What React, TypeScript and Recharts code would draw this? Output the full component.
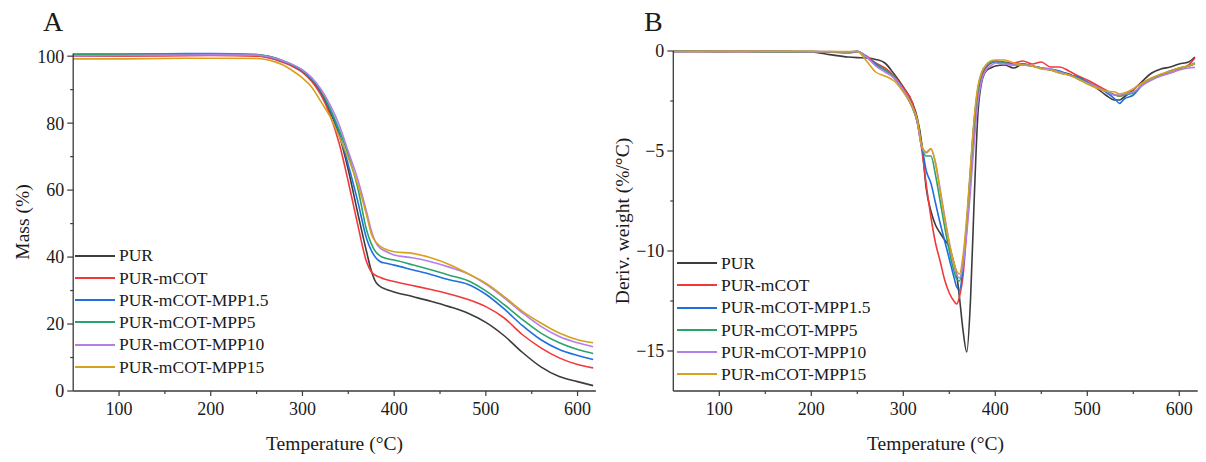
import React from 'react';
import { LineChart, Line, XAxis, YAxis, Legend } from 'recharts';

// ---------- Panel A: TGA (mass %) ----------
const tgaTemps = [50, 100, 150, 200, 250, 260, 270, 280, 290, 300, 310, 320, 330, 340, 350, 360, 370, 375, 380, 385, 390, 400, 420, 440, 460, 480, 500, 520, 540, 560, 580, 600, 617];
const tgaPUR = [100.2, 100.3, 100.4, 100.5, 100.2, 99.8, 99.2, 98.3, 97.0, 95.3, 92.8, 89.0, 83.5, 76.5, 66.0, 53.5, 41.5, 36.0, 32.5, 31.2, 30.5, 29.6, 28.2, 26.8, 25.2, 23.3, 20.5, 16.5, 11.5, 7.2, 4.3, 2.8, 1.6];
const tgaMCOT = [100.0, 100.0, 100.1, 100.2, 100.0, 99.7, 99.0, 98.0, 96.8, 95.2, 92.5, 88.5, 82.5, 74.0, 62.5, 50.0, 38.5, 35.6, 34.5, 33.9, 33.4, 32.7, 31.5, 30.3, 29.0, 27.4, 25.2, 21.8, 16.8, 12.9, 9.9, 7.9, 6.9];
const tgaMPP1_5 = [100.6, 100.6, 100.7, 100.8, 100.5, 100.1, 99.4, 98.4, 97.2, 95.6, 93.2, 89.5, 84.0, 77.0, 67.5, 57.0, 45.5, 42.0, 39.8, 38.6, 38.2, 37.6, 36.2, 34.8, 33.2, 31.9, 28.9, 24.5, 19.5, 15.3, 12.4, 10.6, 9.4];
const tgaMPP5 = [100.4, 100.5, 100.6, 100.7, 100.5, 100.1, 99.5, 98.5, 97.3, 95.8, 93.4, 89.8, 84.5, 78.0, 70.5, 61.0, 48.0, 44.0, 41.5, 40.3, 39.7, 39.1, 37.7, 36.2, 34.6, 33.0, 29.9, 25.8, 21.3, 17.3, 14.4, 12.4, 11.2];
const tgaMPP10 = [100.1, 100.2, 100.3, 100.4, 100.3, 100.0, 99.4, 98.5, 97.4, 95.9, 93.6, 90.2, 85.5, 79.5, 71.5, 63.5, 53.5, 48.0, 44.3, 42.6, 41.8, 40.6, 39.8, 38.6, 37.0, 35.1, 31.9, 27.8, 23.3, 19.3, 16.3, 14.4, 13.2];
const tgaMPP15 = [99.2, 99.2, 99.3, 99.4, 99.3, 99.0, 98.3, 97.2, 95.5, 93.5, 90.8, 86.5, 82.0, 76.0, 69.5, 62.0, 52.5, 47.0, 44.5, 43.2, 42.4, 41.6, 41.1, 39.8, 37.8, 35.1, 32.2, 28.2, 23.8, 20.3, 17.3, 15.3, 14.4];

// ---------- Panel B: DTG (%/°C) ----------
const dtgTemps = [50, 100, 150, 200, 220, 240, 250, 260, 270, 280, 290, 300, 310, 315, 320, 325, 330, 335, 340, 345, 350, 355, 358, 361, 365, 369, 373, 377, 381, 385, 390, 395, 400, 410, 420, 430, 440, 450, 460, 470, 480, 490, 500, 510, 520, 530, 535, 540, 550, 560, 570, 580, 590, 600, 610, 617];
const dtgPUR = [-0.02, -0.03, -0.02, -0.05, -0.18, -0.3, -0.33, -0.35, -0.42, -0.6, -1.15, -1.8, -2.6, -3.3, -4.6, -6.9, -8.0, -8.7, -9.1, -9.45, -9.8, -10.6, -11.2, -12.3, -14.0, -15.05, -12.5, -7.5, -3.2, -1.6, -1.0, -0.85, -0.75, -0.7, -0.85, -0.65, -0.75, -0.85, -0.95, -1.05, -1.15, -1.4, -1.6, -1.85, -2.2, -2.45, -2.45, -2.3, -1.95, -1.5, -1.1, -0.9, -0.8, -0.65, -0.55, -0.3];
const dtgMCOT = [-0.03, -0.02, -0.03, -0.03, -0.05, -0.1, -0.05, -0.25, -0.6, -0.85, -1.25, -1.85, -2.6, -3.5, -4.9, -6.7, -8.3, -9.6, -10.5, -11.45, -12.1, -12.5, -12.65, -12.3, -11.2, -8.9, -6.3, -4.2, -2.3, -1.3, -0.85, -0.6, -0.5, -0.55, -0.6, -0.5, -0.65, -0.55, -0.8, -0.8, -1.0, -1.25, -1.45, -1.7, -1.95, -2.2, -2.25, -2.2, -1.9, -1.6, -1.35, -1.2, -1.1, -0.9, -0.7, -0.35];
const dtgMPP1_5 = [0, -0.02, -0.03, -0.03, -0.05, -0.05, -0.02, -0.3, -0.65, -0.95, -1.35, -2.0, -2.85, -3.5, -4.7, -6.0, -6.6, -7.6, -8.6, -9.5, -10.4, -11.3, -11.8, -11.95, -10.8, -8.7, -6.0, -3.6, -2.0, -1.2, -0.75, -0.6, -0.55, -0.6, -0.65, -0.65, -0.75, -0.85, -0.9, -1.0, -1.2, -1.3, -1.55, -1.8, -2.05, -2.4, -2.62, -2.4, -2.2, -1.7, -1.4, -1.2, -1.0, -0.85, -0.75, -0.6];
const dtgMPP5 = [-0.03, 0, -0.03, -0.03, -0.04, -0.05, -0.02, -0.3, -0.7, -0.95, -1.3, -1.95, -2.8, -3.5, -4.8, -5.25, -5.25, -6.2, -7.5, -8.8, -10.0, -11.0, -11.4, -11.5, -10.6, -8.6, -6.0, -3.5, -1.9, -1.1, -0.7, -0.55, -0.5, -0.6, -0.7, -0.7, -0.75, -0.85, -0.95, -1.1, -1.2, -1.35, -1.6, -1.8, -2.0, -2.2, -2.25, -2.2, -2.1, -1.7, -1.4, -1.2, -1.0, -0.85, -0.75, -0.65];
const dtgMPP10 = [-0.05, -0.02, -0.02, -0.03, -0.03, -0.04, -0.02, -0.3, -0.75, -1.05, -1.35, -1.95, -2.8, -3.5, -4.8, -5.1, -4.9, -5.6, -6.9, -8.3, -9.6, -10.7, -11.2, -11.35, -10.7, -9.1, -7.0, -4.6, -2.6, -1.5, -0.95, -0.75, -0.6, -0.65, -0.7, -0.7, -0.75, -0.85, -0.9, -1.05, -1.2, -1.4, -1.6, -1.8, -2.0, -2.2, -2.2, -2.15, -2.05, -1.7, -1.45, -1.25, -1.1, -0.95, -0.85, -0.82];
const dtgMPP15 = [-0.02, -0.02, -0.02, -0.02, -0.03, -0.03, -0.02, -0.5, -1.05, -1.25, -1.5, -2.05, -2.8, -3.4, -4.7, -5.05, -4.88, -5.6, -7.0, -8.4, -9.6, -10.6, -11.0, -11.15, -10.2, -8.3, -5.8, -3.4, -1.8, -1.1, -0.7, -0.5, -0.45, -0.45, -0.6, -0.7, -0.75, -0.9, -0.95, -1.1, -1.2, -1.4, -1.65, -1.85, -2.0, -2.05, -2.15, -2.1, -1.9, -1.6, -1.35, -1.15, -1.0, -0.85, -0.75, -0.62];

// ---------- Series / ticks ----------
const seriesNames = ['PUR', 'PUR-mCOT', 'PUR-mCOT-MPP1.5', 'PUR-mCOT-MPP5', 'PUR-mCOT-MPP10', 'PUR-mCOT-MPP15'];
const seriesColors = ['#3c3c3c', '#f2393a', '#1f6fe0', '#2ba46a', '#b27fe9', '#d6a11e'];
const xTicks = [100, 150, 200, 250, 300, 350, 400, 450, 500, 550, 600];
const yTicksA = [0, 10, 20, 30, 40, 50, 60, 70, 80, 90, 100];
const yTicksB = [-15, -12.5, -10, -7.5, -5, -2.5, 0];

const keys = ['s0', 's1', 's2', 's3', 's4', 's5'];
const tgaSeries = [tgaPUR, tgaMCOT, tgaMPP1_5, tgaMPP5, tgaMPP10, tgaMPP15];
const dtgSeries = [dtgPUR, dtgMCOT, dtgMPP1_5, dtgMPP5, dtgMPP10, dtgMPP15];

const tgaData = tgaTemps.map((t, i) => {
  const row: any = { t };
  tgaSeries.forEach((s, k) => (row[keys[k]] = s[i]));
  return row;
});
const dtgData = dtgTemps.map((t, i) => {
  const row: any = { t };
  dtgSeries.forEach((s, k) => (row[keys[k]] = s[i]));
  return row;
});

const FONT = '"Liberation Serif", "Times New Roman", serif';
const AXIS = '#3a3a3a';
const TXT = '#1a1a1a';

const X_TS = 5;
const X_TM = 6;
const Y_TS = 6;
const Y_TM = 3;

function XTick(props: any) {
  const { x, y, payload } = props;
  const v = payload.value;
  const major = v % 100 === 0;
  const ay = y - X_TS - X_TM;
  return (
    <g>
      <line x1={x} x2={x} y1={ay} y2={ay + (major ? 5 : 3)} stroke={AXIS} strokeWidth={1.2} />
      {major && (
        <text x={x} y={y} dy="0.71em" textAnchor="middle" fontSize={18} fontFamily={FONT} fill={TXT}>
          {v}
        </text>
      )}
    </g>
  );
}

function makeYTick(isMajor: (v: number) => boolean) {
  return function YTick(props: any) {
    const { x, y, payload } = props;
    const v = payload.value;
    const major = isMajor(v);
    const ax = x + Y_TS + Y_TM;
    const label = v < 0 ? '\u2212' + Math.abs(v) : String(v);
    return (
      <g>
        <line x1={ax} x2={ax - (major ? 6 : 3)} y1={y} y2={y} stroke={AXIS} strokeWidth={1.2} />
        {major && (
          <text x={x} y={y} dy="0.355em" textAnchor="end" fontSize={18} fontFamily={FONT} fill={TXT}>
            {label}
          </text>
        )}
      </g>
    );
  };
}

const YTickA = makeYTick((v) => v % 20 === 0);
const YTickB = makeYTick((v) => Number.isInteger(v / 5));

const renderLegend = (props: any) => {
  const items = [...(props.payload || [])].sort(
    (a: any, b: any) => seriesNames.indexOf(a.value) - seriesNames.indexOf(b.value)
  );
  return (
    <div style={{ fontFamily: FONT, fontSize: 17.5, color: TXT }}>
      {items.map((p: any) => (
        <div key={p.value} style={{ display: 'flex', alignItems: 'center', height: 22.25, lineHeight: '22.25px', whiteSpace: 'nowrap' }}>
          <svg width={44} height={22} style={{ flex: 'none', display: 'block' }}>
            <line x1={0} x2={40} y1={11} y2={11} stroke={p.color} strokeWidth={2} />
          </svg>
          <span>{p.value}</span>
        </div>
      ))}
    </div>
  );
};

function lines() {
  return keys.map((k, i) => (
    <Line
      key={k}
      type="monotone"
      dataKey={k}
      name={seriesNames[i]}
      stroke={seriesColors[i]}
      strokeWidth={1.6}
      dot={false}
      activeDot={false}
      isAnimationActive={false}
    />
  ));
}

export default function App() {
  return (
    <div style={{ position: 'absolute', left: 0, top: 0, width: 1206, height: 462, background: '#fff', overflow: 'hidden' }}>
      <div style={{ position: 'absolute', left: 0, top: 0 }}>
        <LineChart width={603} height={462} data={tgaData} margin={{ top: 53.5, right: 7.1, bottom: 0, left: 0 }}>
          <XAxis
            dataKey="t"
            type="number"
            domain={[50, 620]}
            ticks={xTicks}
            height={71}
            tickSize={X_TS}
            tickMargin={X_TM}
            tickLine={false}
            tick={<XTick />}
            axisLine={{ stroke: AXIS, strokeWidth: 1.3 }}
            interval={0}
          />
          <YAxis
            type="number"
            domain={[0, 100]}
            ticks={yTicksA}
            width={73.2}
            tickSize={Y_TS}
            tickMargin={Y_TM}
            tickLine={false}
            tick={<YTickA />}
            axisLine={{ stroke: AXIS, strokeWidth: 1.3 }}
            interval={0}
          />
          <Legend
            layout="vertical"
            align="center"
            verticalAlign="middle"
            itemSorter={null as any}
            content={renderLegend}
            wrapperStyle={{ position: 'absolute', left: 75, top: 244.4, width: 'auto' }}
          />
          {lines()}
        </LineChart>
      </div>
      <div style={{ position: 'absolute', left: 600, top: 0 }}>
        <LineChart width={606} height={462} data={dtgData} margin={{ top: 51, right: 8.3, bottom: 0, left: 0 }}>
          <XAxis
            dataKey="t"
            type="number"
            domain={[50, 620]}
            ticks={xTicks}
            height={71}
            tickSize={X_TS}
            tickMargin={X_TM}
            tickLine={false}
            tick={<XTick />}
            axisLine={{ stroke: AXIS, strokeWidth: 1.3 }}
            interval={0}
          />
          <YAxis
            type="number"
            domain={[-17, 0]}
            ticks={yTicksB}
            width={73.3}
            tickSize={Y_TS}
            tickMargin={Y_TM}
            tickLine={false}
            tick={<YTickB />}
            axisLine={{ stroke: AXIS, strokeWidth: 1.3 }}
            interval={0}
          />
          <Legend
            layout="vertical"
            align="center"
            verticalAlign="middle"
            itemSorter={null as any}
            content={renderLegend}
            wrapperStyle={{ position: 'absolute', left: 77, top: 251.9, width: 'auto' }}
          />
          {lines()}
        </LineChart>
      </div>
      <svg width={1206} height={462} style={{ position: 'absolute', left: 0, top: 0, pointerEvents: 'none' }}>
        <g fontFamily={FONT} fill={TXT}>
          <text x={43} y={31} fontSize={28}>A</text>
          <text x={644} y={31} fontSize={28}>B</text>
          <text x={334.5} y={450} fontSize={19.5} textAnchor="middle">Temperature (°C)</text>
          <text x={935.5} y={450} fontSize={19.5} textAnchor="middle">Temperature (°C)</text>
          <text x={29} y={222} fontSize={19.5} textAnchor="middle" transform="rotate(-90 29 222)">Mass (%)</text>
          <text x={629} y={221} fontSize={19.5} textAnchor="middle" transform="rotate(-90 629 221)">Deriv. weight (%/°C)</text>
        </g>
      </svg>
    </div>
  );
}
